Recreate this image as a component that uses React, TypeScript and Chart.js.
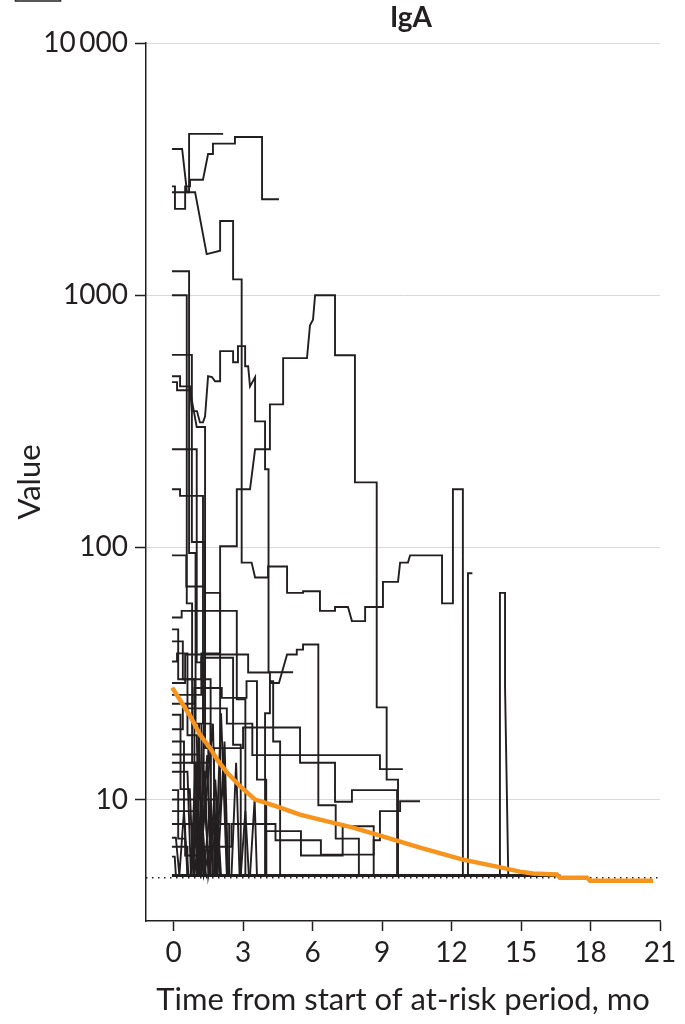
import { useEffect, useRef } from 'react';
import { Chart, registerables } from 'chart.js';

Chart.register(...registerables);

type Pt = [number, number];

const PANEL_TITLE = 'IgA';
const X_TITLE = 'Time from start of at-risk period, mo';
const Y_TITLE = 'Value';
const X_TICKS = [0, 3, 6, 9, 12, 15, 18, 21];
const Y_TICKS = [10, 100, 1000, 10000];
const LOWER_LIMIT = 4.9;

// Median trend across all subjects (months, value)
const medianTrend: Pt[] = [
  [-0.06, 27.8], [0.71, 21.5], [1.14, 18.1], [1.62, 15.8], [1.88, 14.4], [2.31, 12.8],
  [2.87, 11.3], [3.52, 10], [3.95, 9.73], [4.6, 9.3], [5.46, 8.71], [6.32, 8.33],
  [7.75, 7.74], [9.21, 7.06], [10.64, 6.45], [12.49, 5.78], [13.96, 5.42], [14.95, 5.18],
  [15.51, 5.09], [16.55, 5.05], [16.68, 4.9], [17.85, 4.9], [17.98, 4.77], [20.7, 4.77],
];

// Individual subject trajectories (months, value)
const s01: Pt[] = [[-0.07, 3800], [0.37, 3800], [0.58, 2560], [0.67, 2560], [0.67, 4360], [2.14, 4360]];
const s02: Pt[] = [[-0.07, 2700], [0.06, 2700], [0.06, 2200], [0.5, 2200], [0.5, 2700], [0.71, 2700], [0.71, 2870], [1.27, 2870], [1.49, 3630], [1.66, 3630], [1.7, 3990], [2.65, 3990], [2.65, 4240], [3.82, 4240], [3.82, 2400], [4.55, 2400]];
const s03: Pt[] = [[-0.07, 2560], [0.93, 2560], [1.43, 1455], [2.01, 1500], [2.01, 1970], [2.57, 1970], [2.57, 1155], [2.94, 1155], [2.94, 87], [3.37, 87], [3.52, 76], [4.08, 76], [4.08, 84], [4.9, 84], [4.9, 66], [5.59, 66], [5.59, 67], [6.32, 67], [6.32, 56], [6.97, 56], [6.97, 58], [7.53, 58], [7.7, 51], [8.27, 51], [8.27, 58], [9.04, 58], [9.04, 73], [9.69, 73], [9.78, 87], [10.12, 87], [10.21, 93], [11.59, 93], [11.59, 60], [12.06, 60], [12.06, 170], [12.49, 170], [12.49, 5]];
const s04: Pt[] = [[-0.07, 477], [0.28, 477], [0.28, 435], [0.71, 435], [0.79, 347], [1.01, 347], [1.14, 313], [1.27, 313], [1.36, 331], [1.49, 477], [1.66, 473], [1.79, 456], [2.01, 456], [2.01, 600], [2.57, 600], [2.57, 542], [2.78, 542], [2.78, 628], [3.09, 628], [3.09, 523], [3.22, 523], [3.3, 435], [3.52, 473], [3.52, 316], [3.95, 316], [3.95, 204], [4.1, 204], [4.1, 32], [5.16, 32]];
const s05: Pt[] = [[-0.07, 42.4], [0.4, 42.4], [0.4, 30], [1.2, 30], [1.2, 38], [2.01, 38], [2.01, 101], [2.73, 101], [2.73, 170], [3.3, 170], [3.52, 245], [4.16, 245], [4.16, 369], [4.73, 369], [4.73, 563], [5.76, 563], [5.89, 760], [6.02, 800], [6.11, 1000], [6.97, 1000], [6.97, 578], [7.83, 578], [7.83, 181], [8.77, 181], [8.77, 23.2], [9.2, 23.2], [9.2, 12], [9.69, 12], [9.69, 5]];
const s06: Pt[] = [[-0.07, 1245], [0.67, 1245], [0.67, 95], [0.95, 95], [0.95, 20], [1.2, 20], [1.3, 5], [1.6, 10], [1.7, 5]];
const s07: Pt[] = [[-0.07, 1000], [0.57, 1000], [0.57, 60], [0.8, 60], [0.8, 14], [1.0, 14], [1.0, 5]];
const s08: Pt[] = [[-0.07, 580], [0.79, 580], [0.79, 105], [1.36, 105], [1.36, 30], [1.6, 30], [1.6, 8], [1.9, 8], [2.0, 5]];
const s09: Pt[] = [[-0.07, 452], [0.15, 452], [0.15, 420], [0.71, 420], [1.0, 300], [1.36, 300], [1.36, 16], [1.75, 16], [1.75, 5]];
const s10: Pt[] = [[-0.07, 245], [1.0, 245], [1.0, 35], [1.3, 35], [1.3, 11], [1.55, 5], [1.8, 12], [2.05, 5]];
const s11: Pt[] = [[-0.07, 170], [0.28, 170], [0.28, 160], [1.27, 160], [1.27, 20], [1.6, 20], [1.6, 5]];
const s12: Pt[] = [[-0.07, 93], [0.55, 93], [0.55, 70], [1.36, 70], [1.36, 66], [2.01, 66], [2.01, 8], [2.4, 8], [2.4, 5]];
const s13: Pt[] = [[-0.07, 52.7], [0.35, 52.7], [0.35, 56], [2.73, 56], [2.73, 25], [3.1, 25], [3.1, 5]];
const s14: Pt[] = [[-0.07, 47.3], [0.2, 47.3], [0.2, 30], [0.9, 30], [0.9, 6], [1.1, 17], [1.3, 5]];
const s15: Pt[] = [[-0.07, 35.3], [0.15, 35.3], [0.15, 38], [0.6, 38], [0.6, 18], [1.0, 18], [1.15, 5], [1.45, 15], [1.6, 5]];
const s16: Pt[] = [[-0.07, 21.7], [0.3, 21.7], [0.3, 11], [0.7, 11], [0.85, 5], [1.1, 20], [1.2, 5]];
const s17: Pt[] = [[-0.07, 17], [0.45, 17], [0.45, 8], [0.8, 8], [0.9, 5], [1.35, 13], [1.5, 5], [2.2, 12], [2.35, 5]];
const s18: Pt[] = [[-0.07, 15.1], [1.1, 15.1], [1.1, 10], [1.9, 10], [1.9, 5], [2.2, 17], [2.35, 5]];
const s19: Pt[] = [[-0.07, 12.9], [0.6, 12.9], [0.75, 5], [0.95, 14], [1.1, 5], [1.7, 20], [1.85, 5]];
const s20: Pt[] = [[-0.07, 10.9], [0.2, 10.9], [0.2, 7], [0.5, 7], [0.65, 5], [1.8, 5], [2.05, 22], [2.3, 5]];
const s21: Pt[] = [[-0.07, 10], [0.9, 10], [1.05, 5], [1.25, 8], [1.4, 5], [2.5, 5], [2.7, 14], [2.85, 5]];
const s22: Pt[] = [[-0.07, 8], [0.5, 8], [0.5, 6], [1.2, 6], [1.3, 5], [1.9, 9], [2.0, 5]];
const s23: Pt[] = [[-0.07, 7.06], [0.1, 7.06], [0.25, 5], [0.45, 9], [0.6, 5], [2.9, 5], [3.1, 9], [3.25, 5]];
const s24: Pt[] = [[-0.07, 5.94], [0.05, 5.94], [0.1, 5], [3.3, 5], [3.5, 10], [3.6, 5]];
const s25: Pt[] = [[-0.07, 29], [0.5, 29], [0.5, 37.6], [3.22, 37.6], [3.22, 31.9], [4.16, 31.9], [4.16, 29.5], [4.3, 29.5], [4.3, 17], [4.6, 17], [4.6, 5]];
const s26: Pt[] = [[-0.07, 24], [0.9, 24], [0.9, 27.7], [2.08, 27.7], [2.08, 25.3], [3.15, 25.3], [3.15, 29.5], [3.6, 29.5], [3.6, 12], [4.0, 12], [4.0, 5]];
const s27: Pt[] = [[-0.07, 26], [1.2, 26], [1.2, 36.5], [2.57, 36.5], [2.57, 16.5], [2.9, 16.5], [2.9, 5]];
const s28: Pt[] = [[-0.07, 19], [0.4, 19], [0.4, 23], [2.3, 23], [2.3, 20], [3.4, 20], [3.4, 15], [8.91, 15], [8.91, 13.2], [9.9, 13.2]];
const s29: Pt[] = [[-0.07, 14], [1.5, 14], [1.5, 16], [3.0, 16], [3.0, 19.3], [5.46, 19.3], [5.46, 14], [6.97, 14], [6.97, 9.8], [7.7, 9.8], [7.7, 10.9], [9.65, 10.9], [9.65, 5]];
const s30: Pt[] = [[-0.07, 5], [3.95, 5], [3.95, 22], [4.16, 22], [4.16, 29], [4.55, 29], [4.9, 37.6], [5.32, 37.6], [5.32, 39.3], [5.59, 39.3], [5.59, 41.2], [6.25, 41.2], [6.25, 9.5], [7.0, 9.5], [7.0, 7], [8.0, 7], [8.0, 5]];
const s31: Pt[] = [[-0.07, 9], [0.9, 9], [0.9, 6.5], [2.5, 6.5], [2.5, 8], [4.4, 8], [4.4, 6.9], [6.36, 6.9], [6.36, 6.05], [8.64, 6.05], [8.64, 6.9], [8.91, 6.9], [8.91, 9], [9.78, 9], [9.78, 9.85], [10.64, 9.85]];
const s32: Pt[] = [[-0.07, 6.5], [0.6, 6.5], [0.6, 5], [4.0, 5], [4.0, 7.5], [5.5, 7.5], [5.5, 6], [7.3, 6], [7.3, 7.84], [8.64, 7.84], [8.64, 5]];
const s33: Pt[] = [[11.0, 5], [12.71, 5], [12.71, 79], [12.9, 79]];
const s34: Pt[] = [[14.09, 5], [14.09, 66], [14.31, 66], [14.31, 28], [14.45, 5]];
const s35: Pt[] = [[-0.07, 5], [16.7, 5]];

const subjectTraces: Pt[][] = [
  s01, s02, s03, s04, s05, s06, s07, s08, s09, s10, s11, s12, s13, s14, s15, s16, s17, s18,
  s19, s20, s21, s22, s23, s24, s25, s26, s27, s28, s29, s30, s31, s32, s33, s34, s35,
];

const INK = '#231f20';
const GRID = '#d9d9d9';
const ORANGE = '#f7941d';
const FONT = 'Lato, "Open Sans", sans-serif';

const toXY = (pts: Pt[]) => pts.map(([x, y]) => ({ x, y }));

const headerPlugin = {
  id: 'panelHeader',
  afterDraw(chart: any) {
    const { ctx, chartArea } = chart;
    ctx.save();
    ctx.fillStyle = INK;
    ctx.font = `bold 28px ${FONT}`;
    ctx.textAlign = 'center';
    ctx.textBaseline = 'middle';
    ctx.fillText(PANEL_TITLE, (chartArea.left + chartArea.right) / 2 + 8, 18);
    ctx.strokeStyle = INK;
    ctx.lineWidth = 1.5;
    ctx.strokeRect(15.5, -10, 45, 11);
    ctx.restore();
  },
};

export default function App() {
  const ref = useRef<HTMLCanvasElement>(null);

  useEffect(() => {
    const canvas = ref.current;
    if (!canvas) return;

    const subjectSets = subjectTraces.map((pts, i) => ({
      label: `subject ${i + 1}`,
      data: toXY(pts),
      borderColor: INK,
      borderWidth: i === subjectTraces.length - 1 ? 2.8 : 1.9,
      pointRadius: 0,
      tension: 0,
      fill: false,
      order: 2,
    }));

    const chart = new Chart(canvas, {
      type: 'line',
      data: {
        datasets: [
          {
            label: 'lower limit',
            data: toXY([[-1.19, LOWER_LIMIT], [21, LOWER_LIMIT]]),
            borderColor: INK,
            borderWidth: 1.4,
            borderDash: [1.5, 4.5],
            pointRadius: 0,
            fill: false,
            order: 3,
          },
          ...subjectSets,
          {
            label: 'median',
            data: toXY(medianTrend),
            borderColor: ORANGE,
            borderWidth: 4.5,
            pointRadius: 0,
            tension: 0,
            fill: false,
            order: 0,
          },
        ],
      },
      options: {
        animation: false,
        responsive: false,
        events: [],
        layout: { padding: { top: 43, right: 25, bottom: 0, left: 0 } },
        plugins: { legend: { display: false }, tooltip: { enabled: false }, title: { display: false } },
        scales: {
          x: {
            type: 'linear',
            min: -1.19,
            max: 21,
            afterBuildTicks: (s: any) => { s.ticks = X_TICKS.map((v) => ({ value: v })); },
            afterFit: (s: any) => { s.height = 103; },
            grid: { drawOnChartArea: false, drawTicks: true, tickLength: 10, tickColor: INK, tickWidth: 1.5 },
            border: { display: true, color: INK, width: 1.5 },
            ticks: { color: INK, font: { family: FONT, size: 28 }, padding: 5, maxRotation: 0, autoSkip: false },
            title: { display: true, text: X_TITLE, color: INK, font: { family: FONT, size: 31 }, padding: { top: 0, bottom: 5 } },
          },
          y: {
            type: 'logarithmic',
            min: 3.3,
            max: 10000,
            afterBuildTicks: (s: any) => { s.ticks = Y_TICKS.map((v) => ({ value: v })); },
            afterFit: (s: any) => { s.width = 146; },
            grid: { color: GRID, lineWidth: 1, tickLength: 11, tickColor: INK, tickWidth: 1.5 },
            border: { display: true, color: INK, width: 1.5 },
            ticks: {
              color: INK,
              font: { family: FONT, size: 28 },
              padding: 7,
              callback: (v: any) => (Number(v) === 10000 ? '10\u2009000' : String(v)),
            },
            title: { display: true, text: Y_TITLE, color: INK, font: { family: FONT, size: 31 }, padding: { top: 11, bottom: 0 } },
          },
        },
      },
      plugins: [headerPlugin],
    } as any);

    return () => chart.destroy();
  }, []);

  return (
    <div style={{ position: 'absolute', left: 0, top: 0, width: 685, height: 1024, background: '#fff' }}>
      <canvas ref={ref} width={685} height={1024} style={{ display: 'block' }} />
    </div>
  );
}
